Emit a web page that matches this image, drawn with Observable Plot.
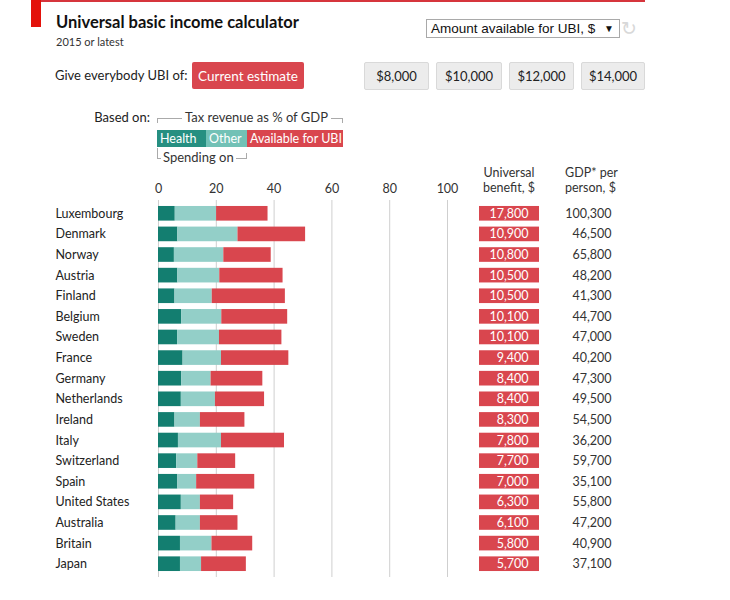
<!DOCTYPE html>
<html>
<head>
<meta charset="utf-8">
<script src="https://cdn.jsdelivr.net/npm/d3@7"></script>
<script src="https://cdn.jsdelivr.net/npm/@observablehq/plot@0.6"></script>
<style>
  body { margin: 0; background: #fff; font-family: Lato, "Noto Sans", sans-serif; color: #333; }
  #wrap { position: relative; width: 730px; height: 600px; overflow: hidden; }
  .abs { position: absolute; white-space: nowrap; }
  .btn { position: absolute; box-sizing: border-box; height: 28px; top: 62px; background: #ececec; border: 1px solid #d9d9d9; border-radius: 2px; font-size: 13px; color: #222; display: flex; align-items: center; justify-content: center; }
  .leg { position: absolute; top: 130px; height: 17px; color: #fff; font-size: 12.5px; font-weight: normal; white-space: nowrap; display: flex; align-items: center; padding-left: 3px; box-sizing: border-box; }
  .plot { position: absolute; top: 170px; }
</style>
</head>
<body>
<div id="wrap">
  <div class="abs" style="left:31px;top:0;width:10px;height:27px;background:#e3120b"></div>
  <div class="abs" style="left:41px;top:0;width:604px;height:2px;background:#d6353c"></div>
  <div class="abs" style="left:56px;top:12px;font-size:16.5px;font-weight:bold;color:#111">Universal basic income calculator</div>
  <div class="abs" style="left:56px;top:35px;font-size:11px;color:#333">2015 or latest</div>

  <div class="abs" style="left:426px;top:19px;width:194px;height:19px;box-sizing:border-box;border:1px solid #a9a9a9;font-family:'Liberation Sans',Arial,sans-serif;font-size:13.5px;color:#111;line-height:17px;padding-left:4px">Amount available for UBI, $<span style="position:absolute;right:5px;top:0;font-size:10px">&#9660;</span></div>
  <div class="abs" style="left:621px;top:17px;font-family:'DejaVu Sans',sans-serif;font-size:19px;color:#d8d8d8">&#8635;</div>

  <div class="abs" style="left:55px;top:67px;font-size:13px;color:#222">Give everybody UBI of:</div>
  <div class="btn" style="left:192px;width:112px;top:62px;height:27px;background:#d9464e;border:none;color:#fff;font-size:13.5px">Current estimate</div>
  <div class="btn" style="left:364px;width:65px">$8,000</div>
  <div class="btn" style="left:436px;width:66px">$10,000</div>
  <div class="btn" style="left:509px;width:65px">$12,000</div>
  <div class="btn" style="left:581px;width:64px">$14,000</div>

  <div class="abs" style="left:70px;width:80px;text-align:right;top:109px;font-size:13px;color:#222">Based on:</div>
  <div class="abs" style="left:157px;top:118px;width:186px;height:5px;box-sizing:border-box;border:1px solid #aaa;border-bottom:none"></div>
  <div class="abs" style="left:182px;top:109px;font-size:13px;background:#fff;padding:0 3px;color:#333">Tax revenue as % of GDP</div>
  <div class="leg" style="left:157px;width:49px;background:#268f81">Health</div>
  <div class="leg" style="left:206px;width:41px;background:#72c1b6">Other</div>
  <div class="leg" style="left:247px;width:96px;background:#d9464e">Available for UBI</div>
  <div class="abs" style="left:157px;top:148px;width:90px;height:11px;box-sizing:border-box;border-left:1px solid #aaa;border-bottom:1px solid #aaa"></div>
  <div class="abs" style="left:246px;top:153px;width:1px;height:6px;background:#aaa"></div>
  <div class="abs" style="left:161px;top:149px;font-size:13px;background:#fff;padding:0 2px;color:#333">Spending on</div>

  <div class="abs" style="left:469px;width:80px;text-align:center;top:165px;font-size:12.5px;line-height:15px;color:#333">Universal<br>benefit, $</div>
  <div class="abs" style="left:565px;top:165px;font-size:12.5px;line-height:15px;color:#333">GDP* per<br>person, $</div>

  <div id="bars" class="plot" style="left:0"></div>
  <div id="benefit" class="plot" style="left:479px"></div>
  <div id="gdp" class="plot" style="left:560px"></div>
</div>
<script>
const countries = ["Luxembourg","Denmark","Norway","Austria","Finland","Belgium","Sweden","France","Germany","Netherlands","Ireland","Italy","Switzerland","Spain","United States","Australia","Britain","Japan"];
// % of GDP
const health = [5.8,6.7,5.5,6.7,5.7,8.0,6.6,8.5,8.0,7.9,5.7,6.9,6.3,6.7,7.9,6.1,7.6,7.6];
const other  = [14.3,20.8,17.1,14.5,12.9,13.9,14.5,13.3,10.2,11.8,8.8,14.9,7.3,6.5,6.6,8.4,10.9,7.3];
const ubi    = [17.8,23.4,16.4,21.9,25.3,22.8,21.6,23.3,17.9,17.0,15.4,21.8,13.1,20.1,11.5,13.0,14.1,15.5];
const benefit = [17800,10900,10800,10500,10500,10100,10100,9400,8400,8400,8300,7800,7700,7000,6300,6100,5800,5700];
const gdp = [100300,46500,65800,48200,41300,44700,47000,40200,47300,49500,54500,36200,59700,35100,55800,47200,40900,37100];
const parts = ["Health","Other","Available for UBI"];
const partColors = ["#137e70","#93cfc8","#d9464e"];
const xTicks = [0,20,40,60,80,100];

const long = [];
countries.forEach((c,i) => {
  long.push({country:c, part:"Health", value:health[i]});
  long.push({country:c, part:"Other", value:other[i]});
  long.push({country:c, part:"Available for UBI", value:ubi[i]});
});
const rows = countries.map((c,i) => ({country:c, benefit:benefit[i], gdp:gdp[i]}));
const fmt = d3.format(",");

const H = 408, MT = 30, MB = 1;
const yOpt = () => ({type: "band", domain: countries, padding: 0.29, round: false, axis: null});
const font = {fontFamily: "Lato, 'Noto Sans', sans-serif", fontSize: "12.5px", color: "#333", background: "transparent"};

document.getElementById("bars").append(Plot.plot({
  width: 470, height: H, marginLeft: 158, marginRight: 23, marginTop: MT, marginBottom: MB,
  x: {domain: [0,100], axis: null},
  y: yOpt(),
  color: {domain: parts, range: partColors},
  style: font,
  marks: [
    Plot.ruleX(xTicks, {stroke: "#cfcfcf", strokeWidth: 1}),
    Plot.barX(long, {x: "value", y: "country", fill: "part"}),
    Plot.axisX({anchor: "top", ticks: xTicks, tickSize: 0, tickPadding: 8, label: null, fill: "#333", fontSize: 12.5}),
    Plot.text(countries, {y: d => d, text: d => d, frameAnchor: "left", textAnchor: "start", dx: -103, fill: "#222", fontSize: 12.5})
  ]
}));

document.getElementById("benefit").append(Plot.plot({
  width: 60, height: H, marginLeft: 0, marginRight: 0, marginTop: MT, marginBottom: MB,
  y: yOpt(),
  style: font,
  marks: [
    Plot.cell(rows, {y: "country", fill: "#d9464e"}),
    Plot.text(rows, {y: "country", text: d => fmt(d.benefit), frameAnchor: "right", textAnchor: "end", dx: -11, fill: "#fff", fontSize: 12.5})
  ]
}));

document.getElementById("gdp").append(Plot.plot({
  width: 52, height: H, marginLeft: 0, marginRight: 0, marginTop: MT, marginBottom: MB,
  y: yOpt(),
  style: font,
  marks: [
    Plot.text(rows, {y: "country", text: d => fmt(d.gdp), frameAnchor: "right", textAnchor: "end", dx: -1, fill: "#333", fontSize: 12.5})
  ]
}));
</script>
</body>
</html>
